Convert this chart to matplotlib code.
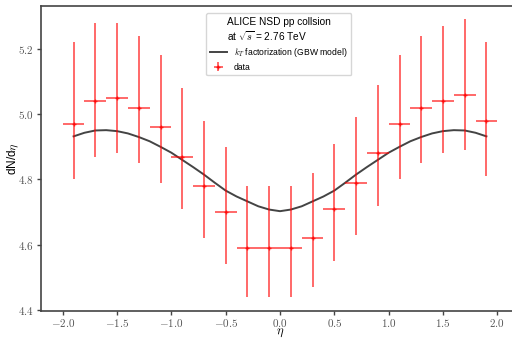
import numpy as np
import matplotlib.pyplot as plt
from matplotlib.ticker import FuncFormatter, MultipleLocator

plt.rcParams['mathtext.fontset'] = 'cm'
plt.rcParams['font.family'] = ['Liberation Sans', 'DejaVu Sans']

# data points (ALICE NSD, sqrt(s) = 2.76 TeV)
eta = [-1.9, -1.7, -1.5, -1.3, -1.1, -0.9, -0.7, -0.5, -0.3, -0.1,
       0.1, 0.3, 0.5, 0.7, 0.9, 1.1, 1.3, 1.5, 1.7, 1.9]
dndeta = [4.97, 5.04, 5.05, 5.02, 4.96, 4.87, 4.78, 4.70, 4.59, 4.59,
          4.59, 4.62, 4.71, 4.79, 4.88, 4.97, 5.02, 5.04, 5.06, 4.98]
err_up = [0.25, 0.24, 0.23, 0.22, 0.22, 0.21, 0.20, 0.20, 0.19, 0.19,
          0.19, 0.20, 0.20, 0.20, 0.21, 0.21, 0.22, 0.23, 0.23, 0.24]
err_lo = [0.17, 0.17, 0.17, 0.17, 0.17, 0.16, 0.16, 0.16, 0.15, 0.15,
          0.15, 0.15, 0.16, 0.16, 0.16, 0.17, 0.17, 0.16, 0.17, 0.17]
eta_bin = 0.1

# kT factorization (GBW model) curve
eta_model = [-1.9, -1.8, -1.7, -1.6, -1.5, -1.4, -1.3, -1.2, -1.1, -1.0,
             -0.9, -0.8, -0.7, -0.6, -0.5, -0.4, -0.3, -0.2, -0.1, 0.0,
             0.1, 0.2, 0.3, 0.4, 0.5, 0.6, 0.7, 0.8, 0.9, 1.0,
             1.1, 1.2, 1.3, 1.4, 1.5, 1.6, 1.7, 1.8, 1.9]
dn_model = [4.932, 4.943, 4.950, 4.951, 4.948, 4.941, 4.930, 4.917, 4.900, 4.882,
            4.860, 4.838, 4.815, 4.790, 4.766, 4.748, 4.733, 4.718, 4.708, 4.703,
            4.708, 4.718, 4.733, 4.748, 4.766, 4.790, 4.815, 4.838, 4.860, 4.882,
            4.900, 4.917, 4.930, 4.941, 4.948, 4.951, 4.950, 4.943, 4.932]

fig = plt.figure(figsize=(5.12, 3.39), dpi=100)
ax = fig.add_axes([41/512, 1 - 311/339, 478/512, (311 - 5.5)/339])

ax.plot(eta_model, dn_model, color='#444444', lw=1.4,
        label=r'$k_T$ factorization (GBW model)')
ax.errorbar(eta, dndeta, xerr=eta_bin, yerr=[err_lo, err_up], fmt='+',
            color='red', ms=3, elinewidth=1.1, capsize=0, alpha=0.75,
            label='data')

ax.set_xlim(-2.2, 2.2)
ax.set_ylim(4.3975, 5.3325)
ax.xaxis.set_major_locator(MultipleLocator(0.5))
ax.yaxis.set_major_locator(MultipleLocator(0.2))
fmt = FuncFormatter(lambda v, p: r'$%.1f$' % v)
ax.xaxis.set_major_formatter(fmt)
ax.yaxis.set_major_formatter(fmt)
ax.tick_params(labelsize=8, colors='#444444', length=3, width=1,
               labelcolor='#555555', pad=2.5)
ax.tick_params(axis='x', pad=1)
for s in ax.spines.values():
    s.set_color('#444444')
    s.set_linewidth(1.2)

ax.set_xlabel(r'$\eta$', fontsize=9, va='center')
ax.xaxis.set_label_coords(0.5, -0.073)
ax.set_ylabel(r'dN/d$\eta$', fontsize=8.5, va='center')
ax.yaxis.set_label_coords(-0.058, 0.5)

leg = ax.legend(loc='upper center', bbox_to_anchor=(0.497, 0.99),
                title='ALICE NSD pp collsion\nat $\\sqrt{s}$ = 2.76 TeV',
                fontsize=6.2, title_fontsize=7.3, frameon=True, fancybox=True,
                handlelength=2.0, borderpad=0.45, labelspacing=0.4)
leg.get_frame().set_edgecolor('#cccccc')

fig.savefig('out.png', dpi=100)
